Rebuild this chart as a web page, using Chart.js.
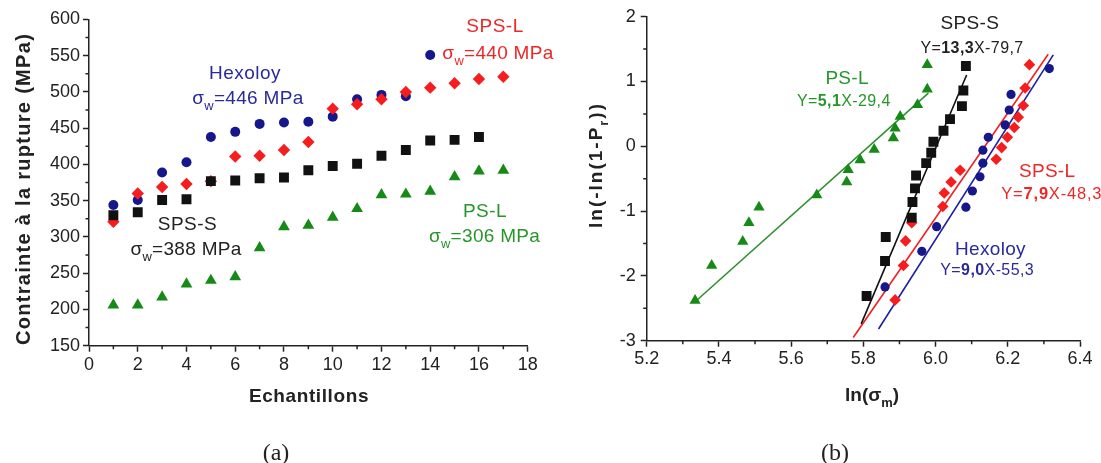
<!DOCTYPE html>
<html>
<head>
<meta charset="utf-8">
<script src="https://cdn.jsdelivr.net/npm/chart.js@4.4.1/dist/chart.umd.min.js"></script>
<style>
  html, body { margin: 0; padding: 0; background: #fff; }
  #wrap { position: relative; width: 1101px; height: 463px; overflow: hidden; background: #fff; }
  #wrap canvas { position: absolute; top: 0; }
  #chartA { left: 0; }
  #chartB { left: 560px; }
</style>
</head>
<body>
<div id="wrap">
  <canvas id="chartA" width="560" height="463"></canvas>
  <canvas id="chartB" width="541" height="463"></canvas>
</div>
<script>
// (a) rupture stress per sample (MPa)
const sampleNo = [1, 2, 3, 4, 5, 6, 7, 8, 9, 10, 11, 12, 13, 14, 15, 16, 17];
const hexoloyStress = [344, 351, 389, 403, 438, 445, 456, 458, 459, 466, 490, 496, 494, 551];
const spsLStress = [321, 360, 369, 373, 377, 411, 412, 420, 431, 477, 483, 490, 500, 506, 512, 518, 521];
const spsSStress = [330, 334, 351, 352, 377, 378, 381, 382, 392, 398, 401, 412, 420, 433, 434, 438];
const psLStress = [206, 206, 217, 235, 240, 245, 285, 314, 316, 327, 339, 358, 359, 363, 383, 391, 392];

// (b) Weibull plot: ln(sigma) vs ln(-ln(1-Pr))
const psLLnS = [5.334, 5.380, 5.466, 5.483, 5.511, 5.671, 5.754, 5.758, 5.791, 5.830, 5.883, 5.888, 5.902, 5.950, 5.977, 5.977];
const psLWb = [-2.38, -1.84, -1.47, -1.18, -0.94, -0.75, -0.55, -0.36, -0.21, -0.05, 0.13, 0.28, 0.46, 0.64, 0.88, 1.26];
const spsSLnS = [5.809, 5.860, 5.862, 5.934, 5.936, 5.943, 5.946, 5.974, 5.988, 5.994, 6.022, 6.040, 6.073, 6.077, 6.084];
const spsSWb = [-2.31, -1.77, -1.40, -1.10, -0.86, -0.65, -0.45, -0.26, -0.10, 0.07, 0.24, 0.42, 0.62, 0.86, 1.24];
const spsLLnS = [5.888, 5.911, 5.917, 5.934, 6.020, 6.024, 6.043, 6.068, 6.168, 6.183, 6.199, 6.218, 6.229, 6.243, 6.248, 6.260];
const spsLWb = [-2.37, -1.84, -1.46, -1.18, -0.93, -0.72, -0.55, -0.37, -0.20, -0.02, 0.14, 0.29, 0.45, 0.63, 0.90, 1.26];
const hexLnS = [5.860, 5.962, 6.003, 6.084, 6.102, 6.123, 6.131, 6.131, 6.146, 6.193, 6.204, 6.209, 6.315];
const hexWb = [-2.17, -1.62, -1.24, -0.94, -0.69, -0.47, -0.26, -0.06, 0.14, 0.33, 0.56, 0.80, 1.20];

// fitted lines, end points
const psLFitX = [5.338, 5.980], psLFitY = [-2.38, 0.82];
const spsSFitX = [5.794, 6.086], spsSFitY = [-2.74, 1.10];
const spsLFitX = [5.772, 6.312], spsLFitY = [-2.95, 1.42];
const hexFitX = [5.842, 6.326], hexFitY = [-2.82, 1.41];

const AXIS = '#222222';
const FONT = "'Liberation Sans', Arial, sans-serif";
const SERIF = "'Liberation Serif', 'Times New Roman', serif";
const BLUE = '#17178c', RED = '#f51d1d', BLACK = '#111111', GREEN = '#168a16';
const BLUE_T = '#2a2a9a', RED_T = '#ee2626', GREEN_T = '#26962a';

Chart.defaults.font.family = FONT;

function pts(xs, ys) {
  return ys.map((y, i) => ({ x: xs[i], y: y }));
}

function markers(label, xs, ys, style, radius, color) {
  return {
    label: label, data: pts(xs, ys), showLine: false, order: 0,
    pointStyle: style, pointRadius: radius, pointBorderWidth: 0,
    pointBackgroundColor: color, pointBorderColor: color
  };
}

function fitLine(label, xs, ys, color) {
  return {
    label: label, data: pts(xs, ys), showLine: true, order: 1,
    borderColor: color, borderWidth: 1.6, pointRadius: 0, fill: false
  };
}

function axis(min, max, step, isMajor, fmt, boxSize, horizontal, pad) {
  return {
    type: 'linear', min: min, max: max,
    afterFit: s => { if (horizontal) s.height = boxSize; else s.width = boxSize; },
    border: { display: true, color: AXIS, width: 1.5 },
    grid: {
      drawOnChartArea: false, drawTicks: true, tickLength: 6, tickWidth: 1.5,
      tickColor: c => (c.tick && c.tick.label !== '') ? AXIS : 'rgba(0,0,0,0)'
    },
    ticks: {
      stepSize: step, autoSkip: false, maxRotation: 0, minRotation: 0, padding: pad,
      color: AXIS, font: { family: FONT, size: 18 },
      callback: v => isMajor(v) ? fmt(v) : ''
    }
  };
}

// short ticks between the labelled ones
const minorTicks = {
  id: 'minorTicks',
  afterDraw(chart) {
    const ctx = chart.ctx;
    ctx.save();
    ctx.strokeStyle = AXIS;
    ctx.lineWidth = 1.5;
    ctx.beginPath();
    Object.values(chart.scales).forEach(sc => {
      sc.ticks.forEach(t => {
        if (t.label !== '') return;
        const p = sc.getPixelForValue(t.value);
        if (sc.isHorizontal()) { ctx.moveTo(p, sc.top); ctx.lineTo(p, sc.top + 3.5); }
        else { ctx.moveTo(sc.right - 3.5, p); ctx.lineTo(sc.right, p); }
      });
    });
    ctx.stroke();
    ctx.restore();
  }
};

function drawRich(ctx, parts, cx, cy, o) {
  const fam = o.family || FONT;
  const size = o.size;
  const fontFor = p => ((p.bold || o.bold) ? 'bold ' : '') + (p.sub ? size * 0.68 : size) + 'px ' + fam;
  ctx.save();
  ctx.letterSpacing = (o.spacing || 0) + 'px';
  let w = 0;
  parts.forEach(p => { ctx.font = fontFor(p); w += ctx.measureText(p.t).width; });
  ctx.translate(cx, cy);
  if (o.rotate) ctx.rotate(o.rotate);
  ctx.fillStyle = o.color || AXIS;
  ctx.textAlign = 'left';
  ctx.textBaseline = 'alphabetic';
  let x = o.align === 'left' ? 0 : -w / 2;
  const base = size * 0.36;
  parts.forEach(p => {
    ctx.font = fontFor(p);
    ctx.fillText(p.t, x, base + (p.sub ? size * 0.3 : 0));
    x += ctx.measureText(p.t).width;
  });
  ctx.restore();
}

function texts(items) {
  return {
    id: 'texts',
    afterDraw(chart) {
      const sx = chart.scales.x, sy = chart.scales.y;
      items.forEach(it => {
        const cx = it.data ? sx.getPixelForValue(it.data[0]) : it.px[0];
        const cy = it.data ? sy.getPixelForValue(it.data[1]) : it.px[1];
        drawRich(chart.ctx, it.parts, cx, cy, it);
      });
    }
  };
}

const sigmaW = v => [{ t: 'σ' }, { t: 'w', sub: true }, { t: '=' + v }];
const eq = (m, rest) => [{ t: 'Y=' }, { t: m, bold: true }, { t: rest }];

const textsA = [
  { data: [16.66, 592.4], parts: [{ t: 'SPS-L' }], color: RED_T, size: 19, spacing: 0.5 },
  { data: [16.78, 555.2], parts: sigmaW('440 MPa'), color: RED_T, size: 19, spacing: 0.3 },
  { data: [6.40, 527.6], parts: [{ t: 'Hexoloy' }], color: BLUE_T, size: 19, spacing: 0.5 },
  { data: [6.52, 493.1], parts: sigmaW('446 MPa'), color: BLUE_T, size: 19, spacing: 0.3 },
  { data: [4.04, 319.3], parts: [{ t: 'SPS-S' }], color: AXIS, size: 19, spacing: 0.5 },
  { data: [3.98, 284.8], parts: sigmaW('388 MPa'), color: AXIS, size: 19, spacing: 0.3 },
  { data: [16.25, 337.2], parts: [{ t: 'PS-L' }], color: GREEN_T, size: 19, spacing: 0.5 },
  { data: [16.23, 302.7], parts: sigmaW('306 MPa'), color: GREEN_T, size: 19, spacing: 0.3 },
  { px: [23, 189], parts: [{ t: 'Contrainte à la rupture (MPa)' }], bold: true, rotate: -Math.PI / 2, size: 20, spacing: 1.3 },
  { px: [309, 395], parts: [{ t: 'Echantillons' }], bold: true, size: 19, spacing: 0.6 },
  { px: [276, 451], parts: [{ t: '(a)' }], family: SERIF, size: 24 }
];

const textsB = [
  { data: [6.095, 1.918], parts: [{ t: 'SPS-S' }], color: AXIS, size: 19, spacing: 0.3 },
  { data: [6.101, 1.532], parts: eq('13,3', 'X-79,7'), color: AXIS, size: 16, spacing: 0.4 },
  { data: [5.755, 1.07], parts: [{ t: 'PS-L' }], color: GREEN_T, size: 19, spacing: 0.3 },
  { data: [5.746, 0.714], parts: eq('5,1', 'X-29,4'), color: GREEN_T, size: 16, spacing: 0.4 },
  { data: [6.309, -0.366], parts: [{ t: 'SPS-L' }], color: RED_T, size: 19, spacing: 0.3 },
  { data: [6.182, -0.725], parts: eq('7,9', 'X-48,3'), color: RED_T, size: 16.5, spacing: 0.8, align: 'left' },
  { data: [6.152, -1.574], parts: [{ t: 'Hexoloy' }], color: BLUE_T, size: 19, spacing: 0.3 },
  { data: [6.143, -1.898], parts: eq('9,0', 'X-55,3'), color: BLUE_T, size: 16, spacing: 0.4 },
  { px: [35, 165], parts: [{ t: 'ln(-ln(1-P' }, { t: 'r', sub: true }, { t: '))' }], bold: true, rotate: -Math.PI / 2, size: 19, spacing: 2 },
  { px: [312, 394], parts: [{ t: 'ln(σ' }, { t: 'm', sub: true }, { t: ')' }], bold: true, size: 19 },
  { px: [275, 451], parts: [{ t: '(b)' }], family: SERIF, size: 24 }
];

const common = {
  responsive: false,
  animation: false,
  devicePixelRatio: 1,
  plugins: { legend: { display: false }, tooltip: { enabled: false } }
};

new Chart(document.getElementById('chartA'), {
  type: 'scatter',
  data: {
    datasets: [
      markers('SPS-S', sampleNo, spsSStress, 'rect', 7, BLACK),
      markers('SPS-L', sampleNo, spsLStress, 'rectRot', 6.2, RED),
      markers('Hexoloy', sampleNo, hexoloyStress, 'circle', 5, BLUE),
      markers('PS-L', sampleNo, psLStress, 'triangle', 6.8, GREEN)
    ]
  },
  options: Object.assign({}, common, {
    layout: { padding: { left: 0, top: 19.5, right: 32.3, bottom: 77.3 } },
    scales: {
      x: axis(0, 18, 1, v => v % 2 === 0, v => String(v), 40, true, 3),
      y: axis(150, 600, 25, v => v % 50 === 0, v => String(v), 89, false, 3)
    }
  }),
  plugins: [minorTicks, texts(textsA)]
});

new Chart(document.getElementById('chartB'), {
  type: 'scatter',
  data: {
    datasets: [
      markers('SPS-S', spsSLnS, spsSWb, 'rect', 7, BLACK),
      markers('SPS-L', spsLLnS, spsLWb, 'rectRot', 5.8, RED),
      markers('Hexoloy', hexLnS, hexWb, 'circle', 4.6, BLUE),
      markers('PS-L', psLLnS, psLWb, 'triangle', 6.5, GREEN),
      fitLine('SPS-S fit', spsSFitX, spsSFitY, BLACK),
      fitLine('SPS-L fit', spsLFitX, spsLFitY, '#f02020'),
      fitLine('Hexoloy fit', hexFitX, hexFitY, '#1f1f9f'),
      fitLine('PS-L fit', psLFitX, psLFitY, '#2f8f2f')
    ]
  },
  options: Object.assign({}, common, {
    layout: { padding: { left: 0, top: 16.7, right: 21, bottom: 82.3 } },
    scales: {
      x: axis(5.2, 6.4, 0.1, v => Math.round(v * 10) % 2 === 0, v => v.toFixed(1), 40, true, 2),
      y: axis(-3, 2, 0.5, v => Math.abs(v - Math.round(v)) < 1e-6, v => String(Math.round(v)), 86.7, false, 5)
    }
  }),
  plugins: [minorTicks, texts(textsB)]
});
</script>
</body>
</html>
